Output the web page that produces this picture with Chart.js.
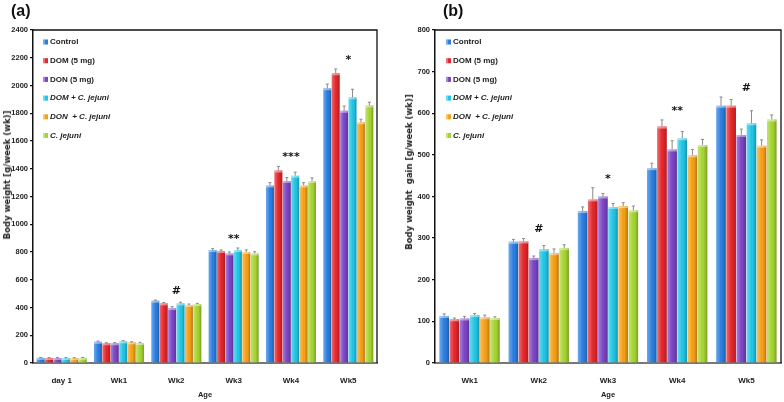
<!DOCTYPE html>
<html>
<head>
<meta charset="utf-8">
<script src="https://cdn.jsdelivr.net/npm/chart.js@4.4.1/dist/chart.umd.min.js"></script>
<style>
  html, body { margin: 0; padding: 0; background: #fff; }
  #wrap { position: relative; width: 784px; height: 402px; overflow: hidden; }
  .panel { position: absolute; top: 0; width: 392px; height: 402px; }
  .tag { position: absolute; top: 2px; font: bold 16px "Liberation Sans", Arial, sans-serif; color: #111; }
  .ytitle { position: absolute; font: bold 8.5px "DejaVu Sans", Verdana, sans-serif; color: #222;
            white-space: pre; transform: translate(-50%, -50%) rotate(-90deg); }
</style>
</head>
<body>
<div id="wrap">
  <div class="panel" style="left:0"><canvas id="chartA" width="392" height="402"></canvas></div>
  <div class="panel" style="left:392px"><canvas id="chartB" width="392" height="402"></canvas></div>
  <div class="tag" style="left:11px">(a)</div>
  <div class="tag" style="left:443px">(b)</div>
  <div class="ytitle" style="left:7px; top:175px">Body weight [g/week (wk)]</div>
  <div class="ytitle" style="left:409px; top:172px">Body weight  gain [g/week (wk)]</div>
</div>
<script>
// series
const seriesNames = ['Control', 'DOM (5 mg)', 'DON (5 mg)', 'DOM + C. jejuni', 'DON  + C. jejuni', 'C. jejuni'];
const seriesItalic = [false, false, false, true, true, true];
const seriesColors = ['#2a7fe2', '#e5262b', '#7b45c6', '#20c6e6', '#f7a016', '#a6d531'];

// panel (a) body weight
const weeksA = ['day 1', 'Wk1', 'Wk2', 'Wk3', 'Wk4', 'Wk5'];
const controlA = [37, 153, 449, 814, 1280, 1980];
const domA     = [36, 142, 430, 807, 1387, 2088];
const donA     = [36, 142, 396, 790, 1312, 1818];
const domCjA   = [36, 156, 430, 814, 1350, 1915];
const donCjA   = [35, 149, 418, 800, 1280, 1735];
const cjA      = [37, 144, 425, 790, 1312, 1857];
const errA = [
  [3, 5, 5, 10, 20, 30],
  [3, 4, 6, 8, 30, 31],
  [3, 5, 10, 10, 25, 34],
  [3, 5, 8, 15, 25, 58],
  [3, 4, 7, 15, 20, 22],
  [3, 5, 5, 12, 22, 22]
];
const sigA = ['', '', '#', '**', '***', '*'];
const ticksA = { max: 2400, step: 200 };

// panel (b) body weight gain
const weeksB = ['Wk1', 'Wk2', 'Wk3', 'Wk4', 'Wk5'];
const controlB = [113, 291, 365, 468, 618];
const domB     = [105, 292, 393, 568, 618];
const donB     = [107, 252, 400, 513, 548];
const domCjB   = [115, 273, 375, 540, 576];
const donCjB   = [110, 264, 377, 499, 522];
const cjB      = [108, 276, 367, 524, 585];
const errB = [
  [5, 6, 10, 12, 21],
  [3, 7, 28, 16, 15],
  [5, 5, 7, 21, 14],
  [4, 9, 8, 16, 30],
  [5, 10, 8, 14, 14],
  [3, 8, 10, 13, 11]
];
const sigB = ['', '#', '*', '**', '#'];
const ticksB = { max: 800, step: 100 };

const sans = '"Liberation Sans", Arial, sans-serif';

// 3d look, error bars, significance marks, legend and frame
const decorPlugin = {
  id: 'decor',
  afterDatasetsDraw(chart, args, opts) {
    const ctx = chart.ctx;
    const area = chart.chartArea;
    const yScale = chart.scales.y;
    const xScale = chart.scales.x;
    ctx.save();
    chart.data.datasets.forEach((ds, di) => {
      const meta = chart.getDatasetMeta(di);
      meta.data.forEach((el, i) => {
        const p = el.getProps(['x', 'y', 'base', 'width'], true);
        const left = p.x - p.width / 2;
        const g = ctx.createLinearGradient(left, 0, left + p.width, 0);
        g.addColorStop(0, 'rgba(255,255,255,0.30)');
        g.addColorStop(0.35, 'rgba(255,255,255,0.10)');
        g.addColorStop(0.6, 'rgba(0,0,0,0)');
        g.addColorStop(1, 'rgba(0,0,0,0.25)');
        ctx.fillStyle = g;
        ctx.fillRect(left, p.y, p.width, p.base - p.y);
        ctx.fillStyle = 'rgba(255,255,255,0.45)';
        ctx.fillRect(left, p.y, p.width, Math.min(2, p.base - p.y));
        // error bar
        const top = yScale.getPixelForValue(ds.data[i] + opts.errors[di][i]);
        ctx.strokeStyle = '#8a8a8a';
        ctx.lineWidth = 1;
        ctx.beginPath();
        ctx.moveTo(p.x, p.y);
        ctx.lineTo(p.x, top);
        ctx.moveTo(p.x - 1.5, top);
        ctx.lineTo(p.x + 1.5, top);
        ctx.stroke();
      });
    });
    // significance marks
    ctx.fillStyle = '#111';
    ctx.font = 'bold 11px "DejaVu Sans", sans-serif';
    ctx.textAlign = 'center';
    ctx.textBaseline = 'middle';
    opts.sig.forEach((s, i) => {
      if (!s) return;
      let hi = 0;
      chart.data.datasets.forEach((ds, di) => {
        hi = Math.max(hi, ds.data[i] + opts.errors[di][i]);
      });
      ctx.fillText(s, xScale.getPixelForValue(i), yScale.getPixelForValue(hi) - 9);
    });
    // legend
    ctx.textAlign = 'left';
    chart.data.datasets.forEach((ds, di) => {
      const ly = area.top + 12 + di * 18.7;
      const lx = area.left + opts.legendX;
      ctx.fillStyle = ds.backgroundColor;
      ctx.fillRect(lx, ly - 2.5, 5, 5);
      ctx.fillStyle = 'rgba(255,255,255,0.35)';
      ctx.fillRect(lx, ly - 2.5, 2, 5);
      ctx.fillStyle = '#222';
      ctx.font = (seriesItalic[di] ? 'italic ' : '') + 'bold 8px ' + sans;
      ctx.fillText(ds.label, lx + 7, ly);
    });
    // frame
    ctx.strokeStyle = '#111';
    ctx.lineWidth = 1.3;
    ctx.beginPath();
    ctx.moveTo(area.left, area.top);
    ctx.lineTo(area.right, area.top);
    ctx.lineTo(area.right, area.bottom);
    ctx.stroke();
    ctx.restore();
  }
};

function makeChart(id, weeks, seriesData, errors, sig, yTicks, yWidth, padRight, legendX) {
  const datasets = seriesData.map((vals, i) => ({
    label: seriesNames[i],
    data: vals,
    backgroundColor: seriesColors[i],
    borderWidth: 0,
    barPercentage: 0.94,
    categoryPercentage: 0.88
  }));
  return new Chart(document.getElementById(id), {
    type: 'bar',
    data: { labels: weeks, datasets: datasets },
    plugins: [decorPlugin],
    options: {
      responsive: false,
      animation: false,
      layout: { padding: { top: 30, right: padRight, left: 0, bottom: 0 } },
      plugins: {
        legend: { display: false },
        tooltip: { enabled: false },
        decor: { errors: errors, sig: sig, legendX: legendX }
      },
      scales: {
        x: {
          grid: { display: false },
          border: { display: true, color: '#777', width: 2 },
          ticks: { color: '#222', font: { family: sans, size: 8, weight: 'bold' }, padding: 5 },
          title: { display: true, text: 'Age', color: '#222',
                   font: { family: sans, size: 7.5, weight: 'bold' }, padding: { top: 0, bottom: 3 } },
          afterFit: s => { s.height = 39; }
        },
        y: {
          min: 0,
          max: yTicks.max,
          ticks: { stepSize: yTicks.step, color: '#222', font: { family: sans, size: 7.5, weight: 'bold' },
                   padding: 2, callback: v => String(v) },
          grid: { display: true, drawOnChartArea: false, drawTicks: true, tickLength: 3, color: '#111', lineWidth: 1.3 },
          border: { display: true, color: '#111', width: 1.5 },
          afterFit: s => { s.width = yWidth; }
        }
      }
    }
  });
}

makeChart('chartA', weeksA, [controlA, domA, donA, domCjA, donCjA, cjA], errA, sigA, ticksA, 33, 15, 10);
makeChart('chartB', weeksB, [controlB, domB, donB, domCjB, donCjB, cjB], errB, sigB, ticksB, 43, 3, 11);
</script>
</body>
</html>
